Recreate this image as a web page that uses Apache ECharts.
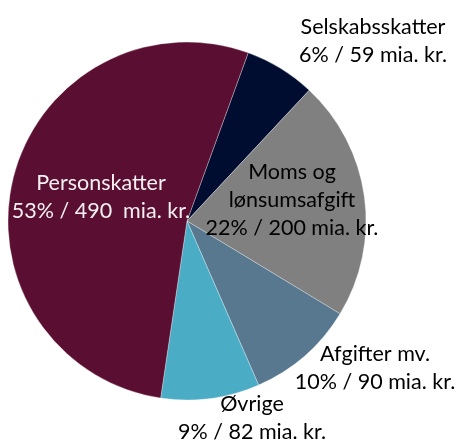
<!DOCTYPE html>
<html><head><meta charset="utf-8">
<script src="https://cdn.jsdelivr.net/npm/echarts@6/dist/echarts.min.js"></script>
<style>html,body{margin:0;padding:0;background:#fff}#c{width:457px;height:442px}</style>
</head><body><div id="c"></div>
<script>
var categories = ['Selskabsskatter', 'Moms og\nlønsumsafgift', 'Afgifter mv.', 'Øvrige', 'Personskatter'];
var values = [59, 200, 90, 82, 490];
var unitText = ['mia. kr.', 'mia. kr.', 'mia. kr.', 'mia. kr.', ' mia. kr.'];
var colors = ['#000c30', '#808080', '#58788f', '#4bacc6', '#5a0f32'];
var textColors = ['#000', '#000', '#000', '#000', '#f4f0f2'];
var labelPos = [[373, 41], [292, 200], [375, 368], [252, 418], [101, 197]];

var chart = echarts.init(document.getElementById('c'));
chart.setOption({
  animation: false,
  series: [{
    type: 'pie',
    center: [187, 221],
    radius: [0, 179],
    startAngle: 70,
    clockwise: true,
    percentPrecision: 0,
    avoidLabelOverlap: false,
    itemStyle: { borderColor: 'rgba(255,255,255,0.6)', borderWidth: 0.5 },
    labelLine: { show: false },
    label: {
      show: true,
      position: 'inside',
      fontFamily: 'Lato',
      fontSize: 21.5,
      lineHeight: 28,
      align: 'center',
      formatter: function (p) {
        return p.name + '\n' + p.percent + '% / ' + p.value + ' ' + unitText[p.dataIndex];
      }
    },
    labelLayout: function (p) {
      return { x: labelPos[p.dataIndex][0], y: labelPos[p.dataIndex][1], align: 'center', verticalAlign: 'middle' };
    },
    data: values.map(function (v, i) {
      return { name: categories[i], value: v, itemStyle: { color: colors[i] }, label: { color: textColors[i] } };
    })
  }]
});
</script></body></html>
